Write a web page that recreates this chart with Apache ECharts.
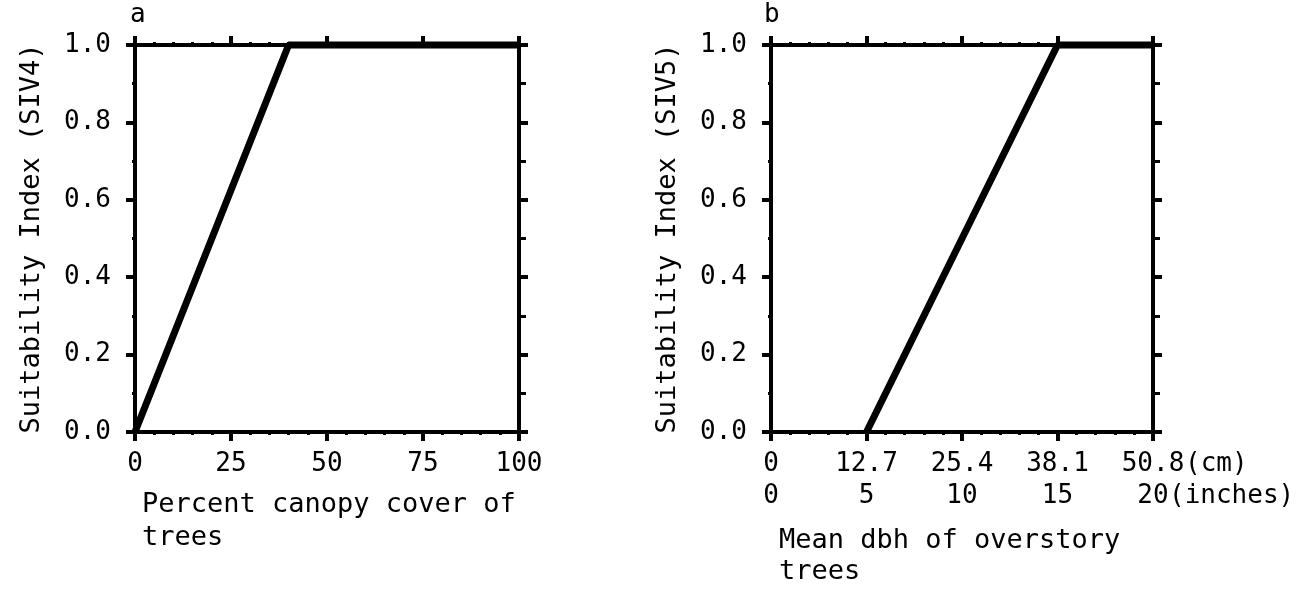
<!DOCTYPE html>
<html>
<head>
<meta charset="utf-8">
<script src="https://cdn.jsdelivr.net/npm/echarts@6/dist/echarts.min.js"></script>
<style>
html,body{margin:0;padding:0;background:#fff;}
#c{width:1301px;height:592px;}
</style>
</head>
<body>
<div id="c"></div>
<script>
// Panel a: percent canopy cover of trees vs SIV4
var coverTicks = ['0', '25', '50', '75', '100'];
var coverX = [0, 40, 100];
var coverSI = [0, 1, 1];
// Panel b: mean dbh of overstory trees vs SIV5
var dbhCmTicks = ['0', '12.7', '25.4', '38.1', '50.8'];
var dbhInTicks = ['0', '5', '10', '15', '20'];
var dbhUnits = ['(cm)', '(inches)'];
var dbhX = [12.7, 38.1, 50.8];
var dbhSI = [0, 1, 1];
var siTicks = ['0.0', '0.2', '0.4', '0.6', '0.8', '1.0'];

var FONT = 'DejaVu Sans Mono';
var FS = 26;
var chart = echarts.init(document.getElementById('c'));

function pairs(xs, ys) { return xs.map(function (x, i) { return [x, ys[i]]; }); }

var axisLineStyle = { color: '#000', width: 4 };
function xAxisCommon(gi, pos, showLabel, max, interval, formatter) {
  return {
    type: 'value', gridIndex: gi, position: pos, min: 0, max: max, interval: interval,
    axisLine: { show: true, onZero: false, lineStyle: axisLineStyle },
    axisTick: { show: true, inside: false, length: 9, lineStyle: { color: '#000', width: 4 } },
    minorTick: { show: true, splitNumber: 5, length: 3, lineStyle: { color: '#000', width: 3 } },
    splitLine: { show: false },
    axisLabel: showLabel ? {
      show: true, margin: 16, color: '#000', fontFamily: FONT, fontSize: FS, lineHeight: 32,
      showMinLabel: true, showMaxLabel: true, hideOverlap: false,
      formatter: formatter
    } : { show: false }
  };
}
function yAxisCommon(gi, pos, showLabel, name) {
  return {
    type: 'value', gridIndex: gi, position: pos, min: 0, max: 1, interval: 0.2,
    axisLine: { show: true, onZero: false, lineStyle: axisLineStyle },
    axisTick: { show: true, inside: false, length: 9, lineStyle: { color: '#000', width: 4 } },
    minorTick: { show: true, splitNumber: 2, length: pos === 'left' ? 3 : 7, lineStyle: { color: '#000', width: 3 } },
    splitLine: { show: false },
    name: name || '', nameLocation: 'middle', nameGap: 90, nameRotate: 90,
    nameTextStyle: { color: '#000', fontFamily: FONT, fontSize: 27 },
    axisLabel: showLabel ? {
      show: true, margin: 24, color: '#000', fontFamily: FONT, fontSize: FS,
      showMinLabel: true, showMaxLabel: true,
      formatter: function (v) { return siTicks[Math.round(v * 5)]; }
    } : { show: false }
  };
}

var coverFmt = function (v) { return coverTicks[Math.round(v / 25)]; };
var dbhFmt = function (v) {
  var i = Math.round(v / 12.7);
  return dbhCmTicks[i] + '\n' + dbhInTicks[i];
};

var option = {
  backgroundColor: '#fff',
  animation: false,
  grid: [
    { left: 135, right: 1301 - 519, top: 45, bottom: 592 - 432 },
    { left: 771, right: 1301 - 1153, top: 45, bottom: 592 - 432 }
  ],
  xAxis: [
    xAxisCommon(0, 'bottom', true, 100, 25, coverFmt),
    xAxisCommon(0, 'top', false, 100, 25),
    xAxisCommon(1, 'bottom', true, 50.8, 12.7, dbhFmt),
    xAxisCommon(1, 'top', false, 50.8, 12.7)
  ],
  yAxis: [
    yAxisCommon(0, 'left', true, 'Suitability Index (SIV4)'),
    yAxisCommon(0, 'right', false),
    yAxisCommon(1, 'left', true, 'Suitability Index (SIV5)'),
    yAxisCommon(1, 'right', false)
  ],
  series: [
    { type: 'line', xAxisIndex: 0, yAxisIndex: 0, data: pairs(coverX, coverSI), showSymbol: false,
      clip: false, lineStyle: { color: '#000', width: 7 } },
    { type: 'line', xAxisIndex: 2, yAxisIndex: 2, data: pairs(dbhX, dbhSI), showSymbol: false,
      clip: false, lineStyle: { color: '#000', width: 7 } }
  ],
  graphic: [
    { type: 'text', left: 130, top: 2, style: { text: 'a', font: FS + 'px "' + FONT + '"', fill: '#000' } },
    { type: 'text', left: 764, top: 2, style: { text: 'b', font: FS + 'px "' + FONT + '"', fill: '#000' } },
    { type: 'text', left: 1185, top: 448, style: { text: dbhUnits[0], font: FS + 'px "' + FONT + '"', lineHeight: 32, fill: '#000' } },
    { type: 'text', left: 1169, top: 480, style: { text: dbhUnits[1], font: FS + 'px "' + FONT + '"', lineHeight: 32, fill: '#000' } },
    { type: 'text', left: 142, top: 488, style: { text: 'Percent canopy cover of\ntrees', font: '27px "' + FONT + '"', lineHeight: 33, fill: '#000' } },
    { type: 'text', left: 779, top: 525, style: { text: 'Mean dbh of overstory\ntrees', font: '27px "' + FONT + '"', lineHeight: 31, fill: '#000' } }
  ]
};
chart.setOption(option);
</script>
</body>
</html>
